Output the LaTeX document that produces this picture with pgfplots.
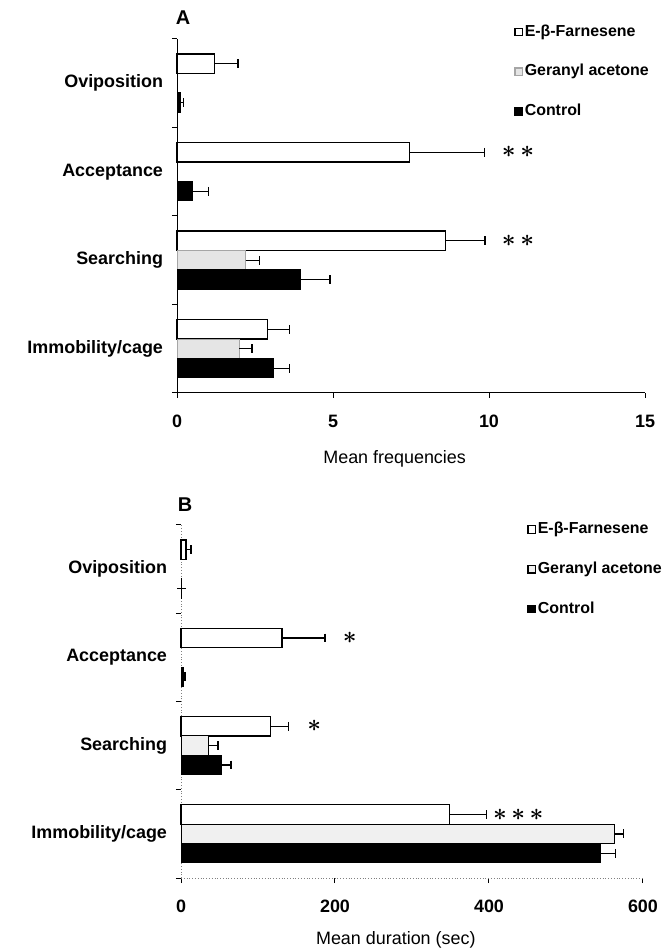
\documentclass[border=0pt]{standalone}
\usepackage{fontspec}
\setmainfont{Liberation Sans}
\usepackage{pgfplots}
\usepackage{pgfplotstable}
\pgfplotsset{compat=1.18}

% y: 3 = Oviposition ... 0 = Immobility/cage
\pgfplotstableread{
y  E     Ee    G    Ge    C     Ce
3  1.2   0.75  0    0     0.1   0.1
2  7.45  2.4   0    0     0.5   0.5
1  8.6   1.27  2.2  0.45  3.95  0.95
0  2.9   0.7   2.0  0.4   3.1   0.5
}\freqtable

\pgfplotstableread{
y  E     Ee    G    Ge    C     Ce
3  6.5   6.5   0    0     1     0
2  131   56    0    0     3     2
1  116   24    36   12    53    12
0  349   48    563  12    545   19
}\durtable

\tikzset{stars/.style={font=\fontsize{12}{12}\selectfont\boldmath}}

\pgfplotsset{
    panel/.style={
        scale only axis, xbar, bar width=0.22, clip=false,
        ymin=-0.5, ymax=3.5,
        ytick={0,1,2,3},
        yticklabels={Immobility/cage,Searching,Acceptance,Oviposition},
        minor ytick={-0.5,0.5,1.5,2.5,3.5},
        axis x line*=bottom, axis y line*=left,
        axis line style={line width=0.5bp},
        tick align=outside, major tick length=2.5bp, minor tick length=2.5bp,
        tick style={line width=0.5bp, black},
        major y tick style={draw=none},
        /pgf/number format/assume math mode=true,
        ticklabel style={font=\bfseries\fontsize{9}{10}\selectfont},
        xticklabel style={yshift=-5bp},
        yticklabel style={xshift=-1bp},
        xlabel style={font=\fontsize{9}{10}\selectfont, at={(axis description cs:0.465,0)}, anchor=center, yshift=-33bp},
        legend style={draw=none, fill=none, anchor=north west,
            font=\bfseries\fontsize{8}{9}\selectfont,
            cells={anchor=west}, row sep=11bp, inner sep=0pt,
            nodes={inner sep=0.8bp}},
        legend image code/.code={\draw[#1,line width=0.6bp] (0bp,-1.9bp) rectangle (3.8bp,1.9bp);},
        error bars/x dir=plus, error bars/x explicit,
        error bars/error bar style={line width=0.7bp, black, solid},
        error bars/error mark options={line width=0.7bp, mark size=2.2bp, black, solid, rotate=90},
    },
    efar/.style={fill=white, draw=black, line width=0.65bp, bar shift=0.22},
    ger/.style={fill=gray!20, draw=gray!70, line width=0.5bp, bar shift=0},
    ctrl/.style={fill=black, draw=black, line width=0.5bp, bar shift=-0.22},
}

\begin{document}
\begin{tikzpicture}
\path[use as bounding box] (0,0) rectangle (333.5bp,475.5bp);

\begin{axis}[panel, at={(88.5bp,279bp)}, width=234bp, height=177bp,
    xmin=0, xmax=15, xtick={0,5,10,15},
    xlabel={Mean frequencies},
    legend style={at={(axis description cs:0.72,1.046)}}]
\addplot[efar] table[x=E, y=y, x error plus=Ee] {\freqtable};
% zero-valued rows (Oviposition, Acceptance) are not drawn
\addplot[ger, skip coords between index={0}{2}] table[x=G, y=y, x error plus=Ge] {\freqtable};
\addplot[ctrl] table[x=C, y=y, x error plus=Ce] {\freqtable};
\legend{E-β-Farnesene, Geranyl acetone, Control}
\node[font=\bfseries\fontsize{10}{12}\selectfont] at (axis description cs:0.013,1.06) {A};
\node[stars] at (axis cs:10.93,2.22) {${\ast}\,{\ast}$};
\node[stars] at (axis cs:10.93,1.22) {${\ast}\,{\ast}$};
\end{axis}

\begin{axis}[panel, at={(90.5bp,36.5bp)}, width=231bp, height=176.5bp,
    xmin=0, xmax=600, xtick={0,200,400,600},
    axis line style={line width=0.4bp, densely dotted, gray},
    xlabel={Mean duration (sec)},
    xlabel style={yshift=2bp},
    ger/.style={fill=gray!12, draw=black, line width=0.5bp, bar shift=0},
    legend style={at={(axis description cs:0.749,1.0135)}}]
\addplot[efar] table[x=E, y=y, x error plus=Ee] {\durtable};
\addplot[ger, skip coords between index={0}{2}] table[x=G, y=y, x error plus=Ge] {\durtable};
\addplot[ctrl] table[x=C, y=y, x error plus=Ce] {\durtable};
\legend{E-β-Farnesene, Geranyl acetone, Control}
\node[font=\bfseries\fontsize{10}{12}\selectfont] at (axis description cs:0.009,1.057) {B};
\node[stars] at (axis cs:219,2.22) {${\ast}$};
\node[stars] at (axis cs:173,1.22) {${\ast}$};
\node[stars] at (axis cs:438,0.22) {${\ast}\,{\ast}\,{\ast}$};
\end{axis}
\end{tikzpicture}
\end{document}
